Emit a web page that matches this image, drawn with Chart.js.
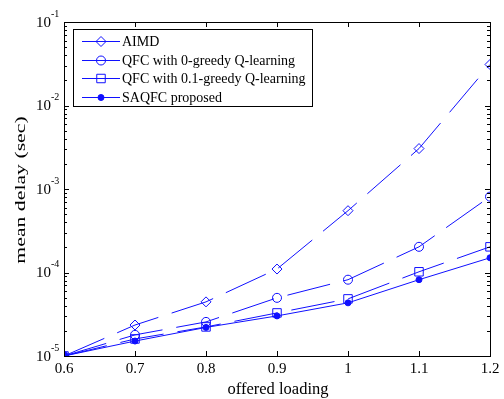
<!DOCTYPE html>
<html>
<head>
<meta charset="utf-8">
<script src="https://cdn.jsdelivr.net/npm/chart.js@4"></script>
<style>
  html, body { margin: 0; padding: 0; background: #fff; }
  #wrap { width: 504px; height: 399px; }
</style>
</head>
<body>
<div id="wrap"><canvas id="delayChart" width="504" height="399"></canvas></div>
<script>
// offered loading values
const loads = [0.6, 0.7, 0.8, 0.9, 1.0, 1.1, 1.2];
const xTickLabels = ['0.6', '0.7', '0.8', '0.9', '1', '1.1', '1.2'];
const yDecades = [-5, -4, -3, -2, -1];

// mean delay (sec)
const aimd = [1e-5, 2.35e-5, 4.45e-5, 1.1e-4, 5.5e-4, 3.05e-3, 3.1e-2];
const qfcGreedy0 = [1e-5, 1.79e-5, 2.56e-5, 4.97e-5, 8.2e-5, 2.03e-4, 8.1e-4];
const qfcGreedy01 = [1e-5, 1.6e-5, 2.23e-5, 3.28e-5, 4.83e-5, 1.02e-4, 2.03e-4];
const saqfc = [1e-5, 1.51e-5, 2.2e-5, 3.02e-5, 4.33e-5, 8.2e-5, 1.5e-4];

const seriesNames = [
    'AIMD',
    'QFC with 0-greedy Q-learning',
    'QFC with 0.1-greedy Q-learning',
    'SAQFC proposed'
];

const blue = '#1010ff';
const serif = '"Liberation Serif", "Times New Roman", serif';

function toPoints(vals) {
    return loads.map((x, i) => ({ x: x, y: vals[i] }));
}

// MATLAB-like box, inward ticks, labels and legend
const matlabAxes = {
    id: 'matlabAxes',
    afterDraw(chart) {
        const ctx = chart.ctx;
        const a = chart.chartArea;
        const xs = chart.scales.x;
        const ys = chart.scales.y;
        ctx.save();
        ctx.strokeStyle = '#000';
        ctx.lineWidth = 1;

        // box
        ctx.strokeRect(Math.round(a.left) + 0.5, Math.round(a.top) + 0.5,
            Math.round(a.right - a.left), Math.round(a.bottom - a.top));

        // x ticks top & bottom
        ctx.beginPath();
        loads.forEach(v => {
            const px = Math.round(xs.getPixelForValue(v)) + 0.5;
            ctx.moveTo(px, a.bottom); ctx.lineTo(px, a.bottom - 5);
            ctx.moveTo(px, a.top); ctx.lineTo(px, a.top + 5);
        });
        // y ticks left & right, major and minor
        yDecades.forEach(d => {
            for (let m = 1; m <= 9; m++) {
                if (d === -1 && m > 1) break;
                const py = Math.round(ys.getPixelForValue(m * Math.pow(10, d))) + 0.5;
                const len = m === 1 ? 5 : 3;
                ctx.moveTo(a.left, py); ctx.lineTo(a.left + len, py);
                ctx.moveTo(a.right, py); ctx.lineTo(a.right - len, py);
            }
        });
        ctx.stroke();

        // x tick labels
        ctx.fillStyle = '#000';
        ctx.font = '15px ' + serif;
        ctx.textAlign = 'center';
        ctx.textBaseline = 'top';
        loads.forEach((v, i) => {
            ctx.fillText(xTickLabels[i], xs.getPixelForValue(v), a.bottom + 6);
        });

        // y tick labels 10^d
        yDecades.forEach(d => {
            const py = ys.getPixelForValue(Math.pow(10, d));
            ctx.font = '15px ' + serif;
            ctx.textAlign = 'right';
            ctx.textBaseline = 'middle';
            ctx.fillText('10', 51, py + 1);
            ctx.font = '10px ' + serif;
            ctx.textAlign = 'left';
            ctx.fillText(String(d), 51, py - 8);
        });

        // axis titles
        ctx.font = '16.5px ' + serif;
        ctx.textAlign = 'center';
        ctx.textBaseline = 'middle';
        ctx.fillText('offered loading', 278, 390);
        ctx.font = '15px ' + serif;
        ctx.translate(21, 190);
        ctx.rotate(-Math.PI / 2);
        ctx.scale(1.45, 1);
        ctx.fillText('mean delay (sec)', 0, 0);
        ctx.restore();

        // legend
        ctx.save();
        const lx = 73, ly = 29, lw = 239, lh = 77;
        ctx.fillStyle = '#fff';
        ctx.fillRect(lx, ly, lw, lh);
        ctx.strokeStyle = '#000';
        ctx.lineWidth = 1;
        ctx.strokeRect(lx + 0.5, ly + 0.5, lw, lh);
        ctx.font = '14px ' + serif;
        ctx.textBaseline = 'middle';
        ctx.textAlign = 'left';
        chart.data.datasets.forEach((ds, i) => {
            const ry = Math.round(ly + 12 + i * 18.7) + 0.5;
            ctx.strokeStyle = ds.borderColor;
            ctx.lineWidth = 1;
            ctx.beginPath();
            ctx.moveTo(82, ry); ctx.lineTo(120, ry);
            ctx.stroke();
            ctx.fillStyle = ds.pointBackgroundColor;
            ctx.strokeStyle = ds.pointBorderColor;
            Chart.helpers.drawPoint(ctx, {
                pointStyle: ds.pointStyle,
                radius: ds.pointRadius,
                borderWidth: 1
            }, 101, ry);
            ctx.fillStyle = '#000';
            ctx.fillText(ds.label, 122, ry + 1);
        });
        ctx.restore();
    }
};

const dash = [44, 14];

new Chart(document.getElementById('delayChart'), {
    type: 'line',
    data: {
        datasets: [
            {
                label: seriesNames[0], data: toPoints(aimd),
                borderColor: blue, borderWidth: 1, borderDash: dash,
                pointStyle: 'rectRot', pointRadius: 5,
                pointBorderColor: blue, pointBackgroundColor: 'rgba(0,0,0,0)', pointBorderWidth: 1
            },
            {
                label: seriesNames[1], data: toPoints(qfcGreedy0),
                borderColor: blue, borderWidth: 1, borderDash: dash,
                pointStyle: 'circle', pointRadius: 4.5,
                pointBorderColor: blue, pointBackgroundColor: 'rgba(0,0,0,0)', pointBorderWidth: 1
            },
            {
                label: seriesNames[2], data: toPoints(qfcGreedy01),
                borderColor: blue, borderWidth: 1, borderDash: dash,
                pointStyle: 'rect', pointRadius: 6,
                pointBorderColor: blue, pointBackgroundColor: 'rgba(0,0,0,0)', pointBorderWidth: 1
            },
            {
                label: seriesNames[3], data: toPoints(saqfc),
                borderColor: blue, borderWidth: 1,
                pointStyle: 'circle', pointRadius: 3,
                pointBorderColor: blue, pointBackgroundColor: blue, pointBorderWidth: 1
            }
        ]
    },
    options: {
        responsive: false,
        animation: false,
        events: [],
        layout: { padding: { left: 64, right: 14, top: 22, bottom: 43 } },
        scales: {
            x: { type: 'linear', min: 0.6, max: 1.2, display: false },
            y: { type: 'logarithmic', min: 1e-5, max: 1e-1, display: false }
        },
        plugins: { legend: { display: false }, tooltip: { enabled: false } },
        elements: { line: { tension: 0 } }
    },
    plugins: [matlabAxes]
});
</script>
</body>
</html>
